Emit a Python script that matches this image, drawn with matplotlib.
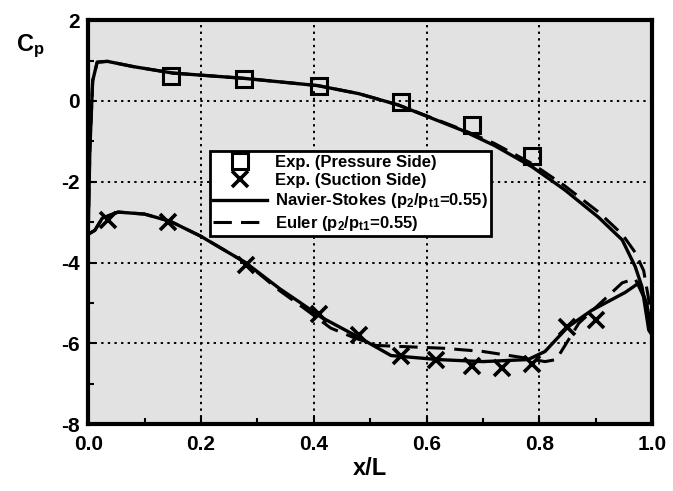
import numpy as np
import matplotlib
matplotlib.use('Agg')
import matplotlib.pyplot as plt
from matplotlib.ticker import MultipleLocator

plt.rcParams['font.family'] = ['Liberation Sans', 'DejaVu Sans']
plt.rcParams['mathtext.fontset'] = 'custom'
plt.rcParams['mathtext.rm'] = 'Liberation Sans:bold'
plt.rcParams['mathtext.it'] = 'Liberation Sans:bold'
plt.rcParams['mathtext.bf'] = 'Liberation Sans:bold'
plt.rcParams['axes.unicode_minus'] = False

# Experimental data
exp_ps_x = [0.146, 0.276, 0.409, 0.555, 0.68, 0.787]
exp_ps_cp = [0.62, 0.55, 0.36, -0.03, -0.6, -1.35]

exp_ss_x = [0.035, 0.142, 0.279, 0.409, 0.48, 0.555, 0.617, 0.68, 0.733, 0.787, 0.849, 0.9]
exp_ss_cp = [-2.95, -3.0, -4.07, -5.26, -5.8, -6.3, -6.41, -6.55, -6.6, -6.5, -5.6, -5.42]

# Navier-Stokes
ns_ps_x = [0.0, 0.003, 0.008, 0.016, 0.034, 0.08, 0.15, 0.276, 0.407, 0.48, 0.55, 0.662, 0.72, 0.787,
           0.845, 0.905, 0.947, 0.97, 0.982, 0.994, 1.0]
ns_ps_cp = [-3.3, -1.2, 0.5, 0.96, 0.98, 0.85, 0.69, 0.56, 0.38, 0.18, -0.1, -0.72, -1.1, -1.63,
            -2.2, -2.88, -3.44, -4.1, -4.6, -5.67, -5.8]

ns_ss_x = [0.0, 0.012, 0.025, 0.053, 0.1, 0.146, 0.2, 0.279, 0.34, 0.377, 0.413, 0.48, 0.537, 0.62,
           0.7, 0.78, 0.81, 0.85, 0.893, 0.952, 0.977, 0.99, 1.0]
ns_ss_cp = [-3.3, -3.2, -2.9, -2.75, -2.8, -2.98, -3.35, -4.0, -4.65, -5.0, -5.35, -5.85, -6.3, -6.4,
            -6.45, -6.4, -6.2, -5.6, -5.18, -4.74, -4.5, -5.0, -5.8]

# Euler
eu_ps_x = [0.0, 0.003, 0.008, 0.016, 0.034, 0.08, 0.15, 0.276, 0.407, 0.48, 0.55, 0.662, 0.72, 0.787,
           0.845, 0.905, 0.947, 0.97, 0.985, 0.995, 1.0]
eu_ps_cp = [-3.3, -1.2, 0.5, 0.96, 0.98, 0.85, 0.69, 0.56, 0.38, 0.18, -0.1, -0.7, -1.05, -1.55,
            -2.1, -2.75, -3.3, -3.75, -4.2, -5.0, -5.8]

eu_ss_x = [0.0, 0.012, 0.025, 0.053, 0.1, 0.146, 0.2, 0.279, 0.34, 0.38, 0.43, 0.47, 0.51, 0.63,
           0.7, 0.77, 0.81, 0.83, 0.87, 0.947, 0.97, 0.99, 1.0]
eu_ss_cp = [-3.3, -3.2, -2.9, -2.75, -2.8, -2.98, -3.35, -4.0, -4.7, -5.1, -5.62, -5.85, -6.05, -6.12,
            -6.2, -6.35, -6.45, -6.4, -5.5, -4.5, -4.4, -5.0, -5.8]

legend_labels = ['Exp. (Pressure Side)', 'Exp. (Suction Side)',
                 r'Navier-Stokes (p$_2$/p$_{t1}$=0.55)', r'Euler (p$_2$/p$_{t1}$=0.55)']

fig = plt.figure(figsize=(6.73, 4.91), dpi=100)
ax = fig.add_axes([0.131, 0.136, 0.838, 0.823])
ax.set_facecolor('#e2e2e2')

ax.plot(ns_ps_x, ns_ps_cp, color='black', lw=2.4, zorder=3)
ax.plot(ns_ss_x, ns_ss_cp, color='black', lw=2.4, zorder=3)
ax.plot(eu_ps_x, eu_ps_cp, color='black', lw=2.2, ls=(0, (6, 3)), zorder=3)
ax.plot(eu_ss_x, eu_ss_cp, color='black', lw=2.2, ls=(0, (6, 3)), zorder=3)

ax.plot(exp_ps_x, exp_ps_cp, ls='none', marker='s', ms=12, mfc='none', mec='black', mew=2.2, zorder=4)
ax.plot(exp_ss_x, exp_ss_cp, ls='none', marker='x', ms=12, mec='black', mew=2.6, zorder=4)

# legend handles
h1, = ax.plot([], [], ls='none', marker='s', ms=11, mfc='none', mec='black', mew=2.2)
h2, = ax.plot([], [], ls='none', marker='x', ms=11, mec='black', mew=2.6)
h3, = ax.plot([], [], color='black', lw=2.4)
h4, = ax.plot([], [], color='black', lw=2.2, ls=(0, (6, 3)))
leg = ax.legend([h1, h2, h3, h4], legend_labels,
                loc='upper left', bbox_to_anchor=(0.216, 0.675), frameon=True, fancybox=False,
                edgecolor='black', framealpha=1, fontsize=12, handlelength=3.2,
                handletextpad=0.5, labelspacing=0.2, borderpad=0.2, borderaxespad=0)
leg.get_frame().set_linewidth(2.0)
for t in leg.get_texts():
    t.set_fontweight('bold')

ax.set_xlim(0, 1)
ax.set_ylim(-8, 2)
ax.xaxis.set_minor_locator(MultipleLocator(0.1))
ax.yaxis.set_major_locator(MultipleLocator(2))
ax.yaxis.set_minor_locator(MultipleLocator(1))
ax.set_xticks([0.0, 0.2, 0.4, 0.6, 0.8, 1.0])
ax.set_xticklabels(['0.0', '0.2', '0.4', '0.6', '0.8', '1.0'])
ax.tick_params(which='both', direction='in', width=1.5, labelsize=15)
ax.tick_params(axis='x', which='major', pad=8)
ax.tick_params(axis='y', which='major', pad=6)
ax.tick_params(which='major', length=6)
ax.tick_params(which='minor', length=4)
for lab in ax.get_xticklabels() + ax.get_yticklabels():
    lab.set_fontweight('bold')

ax.grid(True, which='major', color='black', ls=(0, (1.2, 2.2)), lw=1.4)
for s in ax.spines.values():
    s.set_linewidth(3)

ax.set_xlabel('x/L', fontsize=17, fontweight='bold', labelpad=2)
fig.text(0.045, 0.905, r'C$_\mathregular{p}$', fontsize=17, fontweight='bold', ha='center', va='center')

fig.savefig('out.png', dpi=100)
